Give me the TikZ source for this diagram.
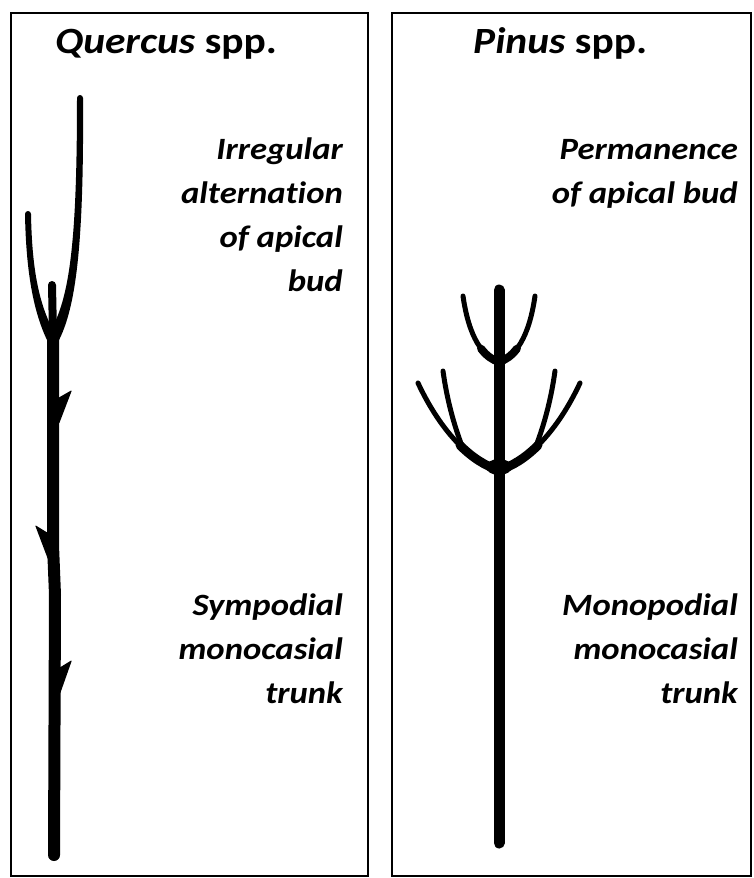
\documentclass[tikz,border=0pt]{standalone}
\usepackage{fontspec}
\newfontfamily\labelfont[FakeStretch=1.12, Ligatures=NoCommon]{Carlito}

% pen widths for the stems
\tikzset{
  panel/.style={draw=black, line width=2.5pt},
  trunk/.style={line width=12pt, line cap=round},
  limb/.style={line width=8pt, line cap=round},
  twig/.style={line width=5pt, line cap=round},
  heading/.style={inner sep=0pt, font=\labelfont\fontsize{37}{40}\selectfont\bfseries},
  note/.style={inner sep=0pt, align=right, font=\labelfont\fontsize{31}{44}\selectfont\bfseries\itshape},
}

\begin{document}
\begin{tikzpicture}[x=1pt, y=-1pt]
  \useasboundingbox (0,0) rectangle (753,878);
  \fill[white] (0,0) rectangle (753,878);

  % the two panels
  \draw[panel] (11,13) rectangle (368,876);
  \draw[panel] (392,13) rectangle (751,876);

  \node[heading, anchor=base west] (quercus) at (55,53) {\textit{Quercus} spp.};
  \node[heading, anchor=base west] (pinus) at (473,53) {\textit{Pinus} spp.};

  % oak: sympodial stem
  \draw[trunk] (53,338) -- (53,545) -- (55,595) -- (54,855);
  \fill (49,333) .. controls (70,300) and (77,240) .. (77,98)
        arc[start angle=180, end angle=0, radius=3pt]
        .. controls (84,245) and (76,308) .. (58,342) -- cycle;
  \fill (25,214) arc[start angle=180, end angle=0, radius=3pt]
        .. controls (32,270) and (39,305) .. (55,334)
        -- (48,342) .. controls (33,312) and (26,270) .. (25,214) -- cycle;
  \draw[limb] (52,285) -- (53,335);
  % small side shoots
  \fill[rounded corners=1pt] (58,398) -- (72,390) -- (59,424) -- cycle;
  \fill[rounded corners=1pt] (48,533) -- (35,525) -- (49,562) -- cycle;
  \fill[rounded corners=1pt] (59,668) -- (72,660) -- (60,694) -- cycle;

  \node[note, anchor=base east] (irregular) at (343,291)
    {Irregular\\alternation\\of apical\\bud};
  \node[note, anchor=base east] (sympodial) at (343,703)
    {Sympodial\\monocasial\\trunk};

  % pine: monopodial stem with two whorls
  \draw[trunk, line width=11pt] (499,290) -- (499,843);
  \draw[twig] (463,296) .. controls (469,338) and (483,357) .. (499,362);
  \draw[twig] (535,296) .. controls (529,338) and (515,357) .. (499,362);
  \draw[limb] (481.1,348.7) .. controls (486.5,355.8) and (492.6,360) .. (499,362);
  \draw[limb] (516.9,348.7) .. controls (511.5,355.8) and (505.4,360) .. (499,362);

  \draw[twig] (418,383) .. controls (440,430) and (470,462) .. (499,470);
  \draw[twig] (580,383) .. controls (558,430) and (528,462) .. (499,470);
  \draw[twig] (443,371) .. controls (447,400) and (454,425) .. (462,446);
  \draw[twig] (555,371) .. controls (551,400) and (544,425) .. (536,446);
  \draw[limb, line width=9pt] (460.1,445.4) .. controls (472.7,457.9) and (486,466.4) .. (499,470);
  \draw[limb, line width=9pt] (537.9,445.4) .. controls (525.3,457.9) and (512,466.4) .. (499,470);
  \fill (499,467) ellipse[x radius=13pt, y radius=8pt];

  \node[note, anchor=base east] (permanence) at (738,203)
    {Permanence\\of apical bud};
  \node[note, anchor=base east] (monopodial) at (738,703)
    {Monopodial\\monocasial\\trunk};
\end{tikzpicture}
\end{document}
